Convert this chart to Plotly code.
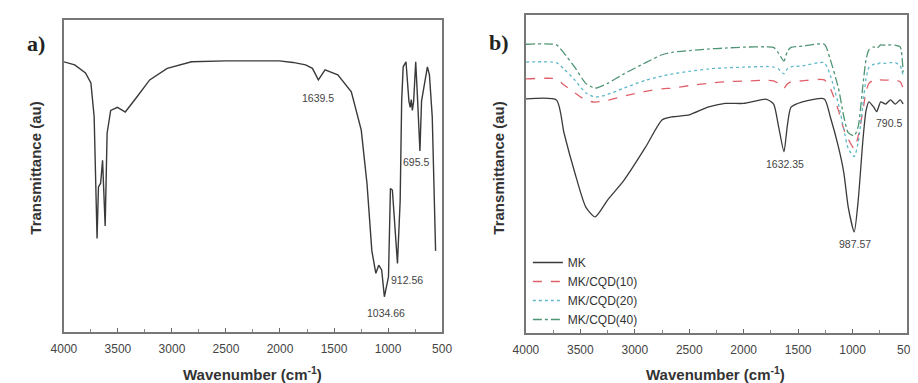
import plotly.graph_objects as go

# ---------------- data: panel a (kaolin) ----------------
wn_a = [4000, 3900, 3800, 3750, 3720, 3693, 3680, 3660, 3642, 3618, 3600, 3567, 3504,
        3432, 3323, 3206, 3044, 2818, 2500, 2200, 2006, 1880, 1763, 1700, 1645, 1583,
        1465, 1340, 1248, 1195, 1150, 1113, 1086, 1059, 1034, 996, 978, 960, 933, 913,
        888, 874, 860, 834, 807, 795, 785, 775, 763, 744, 726, 705, 690, 663, 636, 617,
        591, 560]
t_a = [86.6, 85.6, 83.0, 79.8, 69.0, 30.0, 46.5, 47.7, 55.0, 34.0, 63.7, 71.0, 72.0,
       70.5, 75.4, 80.8, 84.5, 86.6, 86.9, 86.9, 86.9, 86.4, 85.6, 84.5, 80.8, 84.0,
       82.4, 77.0, 64.7, 47.6, 26.0, 18.8, 21.4, 19.9, 11.3, 17.7, 46.0, 45.5, 31.6, 22.0,
       42.0, 74.0, 85.0, 86.6, 74.0, 72.0, 74.5, 71.0, 74.0, 86.6, 74.0, 58.0, 74.0, 79.8,
       85.0, 82.4, 69.0, 26.0]
# peak labels: (text, label x in cm-1, label y in plot units)
labels_a = [("1639.5", 1646, 75.0), ("695.5", 744, 54.5), ("912.56", 825, 16.7),
            ("1034.66", 1023, 6.1)]

# ---------------- data: panel b (composites) ----------------
wn_b = [4000, 3720, 3650, 3550, 3450, 3364, 3250, 3100, 2900, 2750, 2650, 2500, 2330, 2170,
        2000, 1790, 1725, 1680, 1630, 1600, 1565, 1460, 1260, 1205, 1130, 1080, 1040, 985,
        948, 905, 876, 850, 806, 778, 742, 697, 652, 607, 563, 536]
mk = [73.6, 73.3, 62.9, 50.3, 39.6, 36.5, 41.8, 48.0, 58.5, 67.0, 68.0, 68.6, 71.0, 72.2,
      72.2, 73.5, 72.0, 65.0, 57.0, 65.0, 71.0, 72.7, 73.6, 68.0, 58.5, 50.3, 39.6, 31.8,
      41.8, 60.7, 70.0, 72.7, 71.0, 69.6, 72.7, 72.0, 73.3, 72.0, 73.3, 72.0]
cqd10 = [79.9, 79.9, 78.0, 75.5, 73.2, 72.6, 73.2, 74.5, 76.0, 76.8, 77.0, 77.8, 78.5, 79.0,
         79.2, 79.5, 79.3, 78.5, 77.0, 78.3, 79.0, 79.3, 79.6, 77.0, 70.0, 64.0, 61.0, 58.0,
         62.0, 70.0, 76.0, 78.5, 79.5, 79.0, 79.6, 79.5, 79.6, 79.5, 79.0, 77.0]
cqd20 = [85.2, 85.0, 83.0, 79.5, 75.5, 74.2, 75.0, 77.0, 79.5, 80.8, 81.5, 82.3, 83.0, 83.4,
         83.6, 83.8, 83.6, 83.0, 81.5, 83.0, 83.7, 84.0, 85.0, 81.0, 72.0, 64.0, 58.0, 55.5,
         60.0, 72.0, 80.0, 83.5, 84.5, 84.5, 85.0, 84.8, 85.0, 85.0, 84.0, 81.0]
cqd40 = [90.8, 90.6, 88.0, 83.5, 78.5, 77.0, 78.5, 81.5, 85.0, 87.5, 88.3, 88.8, 89.3, 89.6,
         89.9, 90.0, 89.8, 88.0, 85.5, 88.5, 89.8, 90.2, 90.8, 86.0, 77.0, 68.0, 63.0, 62.0,
         65.0, 78.0, 86.0, 89.0, 90.0, 89.5, 90.6, 90.5, 90.6, 90.5, 90.0, 82.0]
series_names = ["MK", "MK/CQD(10)", "MK/CQD(20)", "MK/CQD(40)"]
series_vals = [mk, cqd10, cqd20, cqd40]
series_colors = ["#3a3a3a", "#e0606a", "#5fb8c8", "#4f9474"]
series_dash = ["solid", "dash", "dot", "dashdot"]
labels_b = [("1632.35", 1619, 53.1), ("987.57", 974, 28.0), ("790.5", 670, 66.0)]
xticks = [4000, 3500, 3000, 2500, 2000, 1500, 1000, 500]

# page body has an 8px margin: build the figure 8px smaller and shift positions
OFF = 8
W, H = 918 - OFF, 383 - OFF
fig = go.Figure()

fig.add_trace(go.Scatter(x=wn_a, y=t_a, mode="lines", line=dict(color="#3a3a3a", width=1.4),
                         showlegend=False, xaxis="x", yaxis="y"))
for name, vals, col, dash in zip(series_names, series_vals, series_colors, series_dash):
    fig.add_trace(go.Scatter(x=wn_b, y=vals, mode="lines", name=name,
                             line=dict(color=col, width=1.3, dash=dash, shape="spline", smoothing=0.6),
                             xaxis="x2", yaxis="y2"))

def px(v):  # paper x from screen pixel
    return (v - OFF) / W

def py(v):
    return 1 - (v - OFF) / H

axis_common = dict(range=[4000, 500], tickvals=xticks, ticktext=[str(t) for t in xticks],
                   ticks="inside", ticklen=4, tickcolor="#666", showline=True, linecolor="#777",
                   linewidth=1.5, mirror=True, showgrid=False, zeroline=False,
                   tickfont=dict(family="Liberation Sans", size=12, color="#444"),
                   ticklabelstandoff=5,
                   minor=dict(dtick=250, ticks="inside", ticklen=3, tickcolor="#888"))
yaxis_common = dict(range=[0, 100], showticklabels=False, ticks="", showline=True,
                    linecolor="#777", linewidth=1.5, mirror=True, showgrid=False, zeroline=False)

fig.update_layout(
    width=W, height=H, margin=dict(l=0, r=0, t=0, b=0),
    paper_bgcolor="white", plot_bgcolor="white",
    xaxis=dict(domain=[px(52), px(440)], anchor="y", **axis_common),
    yaxis=dict(domain=[py(332), py(20)], anchor="x", **yaxis_common),
    xaxis2=dict(domain=[px(526), px(917)], anchor="y2", **axis_common),
    yaxis2=dict(domain=[py(333), py(15)], anchor="x2", **yaxis_common),
    legend=dict(x=px(528), y=py(248), xanchor="left", yanchor="top",
                bgcolor="rgba(0,0,0,0)", font=dict(family="Liberation Sans", size=12, color="#333"),
                tracegroupgap=0, itemwidth=30),
)

ann = []
ann.append(dict(text="<b>a)</b>", x=px(12), y=py(43), xref="paper", yref="paper", xanchor="left",
                yanchor="middle", showarrow=False, font=dict(family="Liberation Serif", size=22, color="#222")))
ann.append(dict(text="<b>b)</b>", x=px(486), y=py(42), xref="paper", yref="paper", xanchor="left",
                yanchor="middle", showarrow=False, font=dict(family="Liberation Serif", size=22, color="#222")))
for cx in (246, 721):
    ann.append(dict(text="<b>Wavenumber (cm<sup>-1</sup>)</b>", x=px(cx), y=py(373), xref="paper",
                    yref="paper", xanchor="center", yanchor="middle", showarrow=False,
                    font=dict(family="Liberation Sans", size=15, color="#333")))
for cx, cy in ((22, 168), (497, 168)):
    ann.append(dict(text="<b>Transmittance (au)</b>", x=px(cx), y=py(cy), xref="paper", yref="paper",
                    xanchor="center", yanchor="middle", textangle=-90, showarrow=False,
                    font=dict(family="Liberation Sans", size=15, color="#333")))
for lab, lx, ly in labels_a:
    ann.append(dict(text=lab, x=lx, y=ly, xref="x", yref="y", showarrow=False,
                    xanchor="center", yanchor="middle",
                    font=dict(family="Liberation Sans", size=10.5, color="#444")))
for lab, lx, ly in labels_b:
    ann.append(dict(text=lab, x=lx, y=ly, xref="x2", yref="y2", showarrow=False,
                    xanchor="center", yanchor="middle",
                    font=dict(family="Liberation Sans", size=10.5, color="#444")))
fig.update_layout(annotations=ann)

fig.write_html("out.html")
